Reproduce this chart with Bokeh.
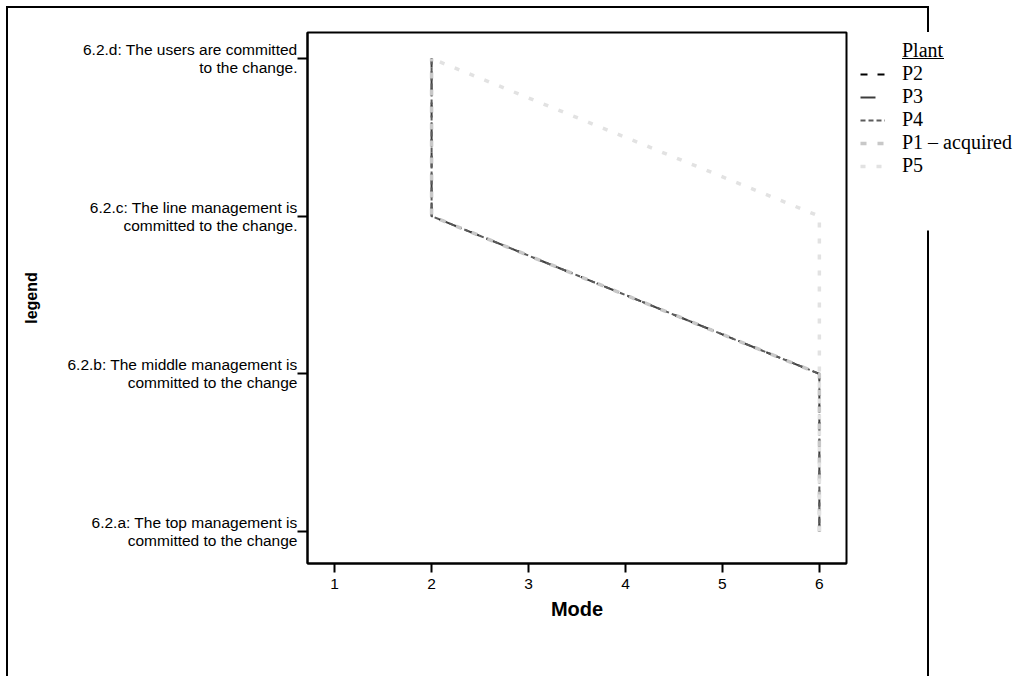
from bokeh.plotting import figure
from bokeh.layouts import row
from bokeh.models import Range1d, FixedTicker, Legend, LegendItem, InlineStyleSheet, BoxAnnotation
from bokeh.embed import file_html
from bokeh.resources import INLINE

# ---- data ----
categories = [
    "6.2.a: The top management is\ncommitted to the change",
    "6.2.b: The middle management is\ncommitted to the change",
    "6.2.c: The line management is\ncommitted to the change.",
    "6.2.d: The users are committed\nto the change.",
]
x_ticks = [1, 2, 3, 4, 5, 6]
legend_title = "Plant"
plants = ["P2", "P3", "P4", "P1 \u2013 acquired", "P5"]
mode_P2 = [6, 6, 2, 2]
mode_P3 = [6, 6, 2, 2]
mode_P4 = [6, 6, 2, 2]
mode_P1 = [6, 6, 2, 2]
mode_P5 = [6, 6, 6, 2]
series = [mode_P2, mode_P3, mode_P4, mode_P1, mode_P5]

# ---- styles ----
colors = ["#000000", "#3c3c3c", "#5c5c5c", "#c8c8c8", "#e2e2e2"]
dashes = ["7 10", "15 10", "5 3", "6 11", "5 11"]
widths = [2, 2, 2, 3.5, 3.5]

cat_pos = list(range(1, len(categories) + 1))

# ---- main chart ----
p = figure(width=848, height=670, output_backend="svg", toolbar_location=None,
           x_range=Range1d(0.72, 6.28), y_range=Range1d(0.797, 4.165),
           min_border_left=307, min_border_right=2, min_border_top=32, min_border_bottom=107)
p.grid.visible = False
p.outline_line_color = "black"
p.outline_line_width = 2
p.background_fill_color = "white"
p.border_fill_color = None

for vals, c, d, w in zip(series, colors, dashes, widths):
    p.line(vals, cat_pos, line_color=c, line_dash=d, line_width=w)

for ax in (p.xaxis[0], p.yaxis[0]):
    ax.axis_line_color = "black"
    ax.axis_line_width = 2
    ax.major_tick_line_color = "black"
    ax.major_tick_line_width = 2
    ax.major_tick_in = 0
    ax.minor_tick_line_color = None
    ax.major_label_text_font = "Liberation Sans"
    ax.major_label_text_font_size = "15.5px"
    ax.major_label_text_color = "black"
    ax.axis_label_text_font = "Liberation Sans"
    ax.axis_label_text_font_style = "bold"
    ax.axis_label_text_color = "black"

p.xaxis.ticker = FixedTicker(ticks=x_ticks)
p.xaxis.major_tick_out = 9
p.xaxis.major_label_standoff = 6
p.xaxis.axis_label = "Mode"
p.xaxis.axis_label_text_font_size = "20px"
p.xaxis.axis_label_standoff = 6

p.yaxis.ticker = FixedTicker(ticks=cat_pos)
p.yaxis.major_label_overrides = {pos: lab for pos, lab in zip(cat_pos, categories)}
p.yaxis.major_label_text_line_height = 1.05
p.yaxis.major_tick_out = 10
p.yaxis.major_label_standoff = 0
p.yaxis.axis_label = "legend"
p.yaxis.axis_label_text_font_size = "16px"
p.yaxis.axis_label_standoff = 24

# ---- legend panel (separate figure to the right; its own lines stay out of view) ----
side = figure(width=172, height=670, output_backend="svg", toolbar_location=None,
              x_range=Range1d(-1, 0), y_range=Range1d(0, 1),
              x_axis_type=None, y_axis_type=None,
              min_border_left=5, min_border_right=0, min_border_top=32, min_border_bottom=107)
side.grid.visible = False
side.outline_line_color = None
side.background_fill_color = None
side.border_fill_color = None

# white backing of the legend block (covers the page frame, as in the original)
side.add_layout(BoxAnnotation(bottom=0.627, fill_color="white", fill_alpha=1, line_alpha=0))

title_renderer = side.line(mode_P2, cat_pos, line_alpha=0)
items = [LegendItem(label=legend_title, renderers=[title_renderer])]
for n, vals, c, d, w in zip(plants, series, colors, dashes, widths):
    r = side.line(vals, cat_pos, line_color=c, line_dash=d, line_width=w)
    items.append(LegendItem(label=n, renderers=[r]))

legend = Legend(items=items, location="top_left", glyph_width=25, glyph_height=16,
                label_standoff=17, padding=7, margin=0, spacing=0, label_height=20,
                label_text_font="Liberation Serif", label_text_font_size="20px",
                label_text_line_height=0.9, label_text_color="black",
                background_fill_color="white", background_fill_alpha=1, border_line_alpha=0)
side.add_layout(legend)

layout = row(p, side, spacing=0)

# outer page frame and the underline of the legend header
css = """
:host::before {
  content: ""; position: absolute; left: 6px; top: 6px; width: 919px; height: 668px;
  border-left: 2px solid black; border-top: 2px solid black; border-right: 2px solid black;
  z-index: -1; pointer-events: none;
}
:host::after {
  content: ""; position: absolute; left: 902px; top: 58px; width: 42px; height: 0;
  border-top: 1px solid black; z-index: 10; pointer-events: none;
}
"""
layout.stylesheets = [InlineStyleSheet(css=css)]

open("out.html", "w").write(file_html(layout, INLINE))
